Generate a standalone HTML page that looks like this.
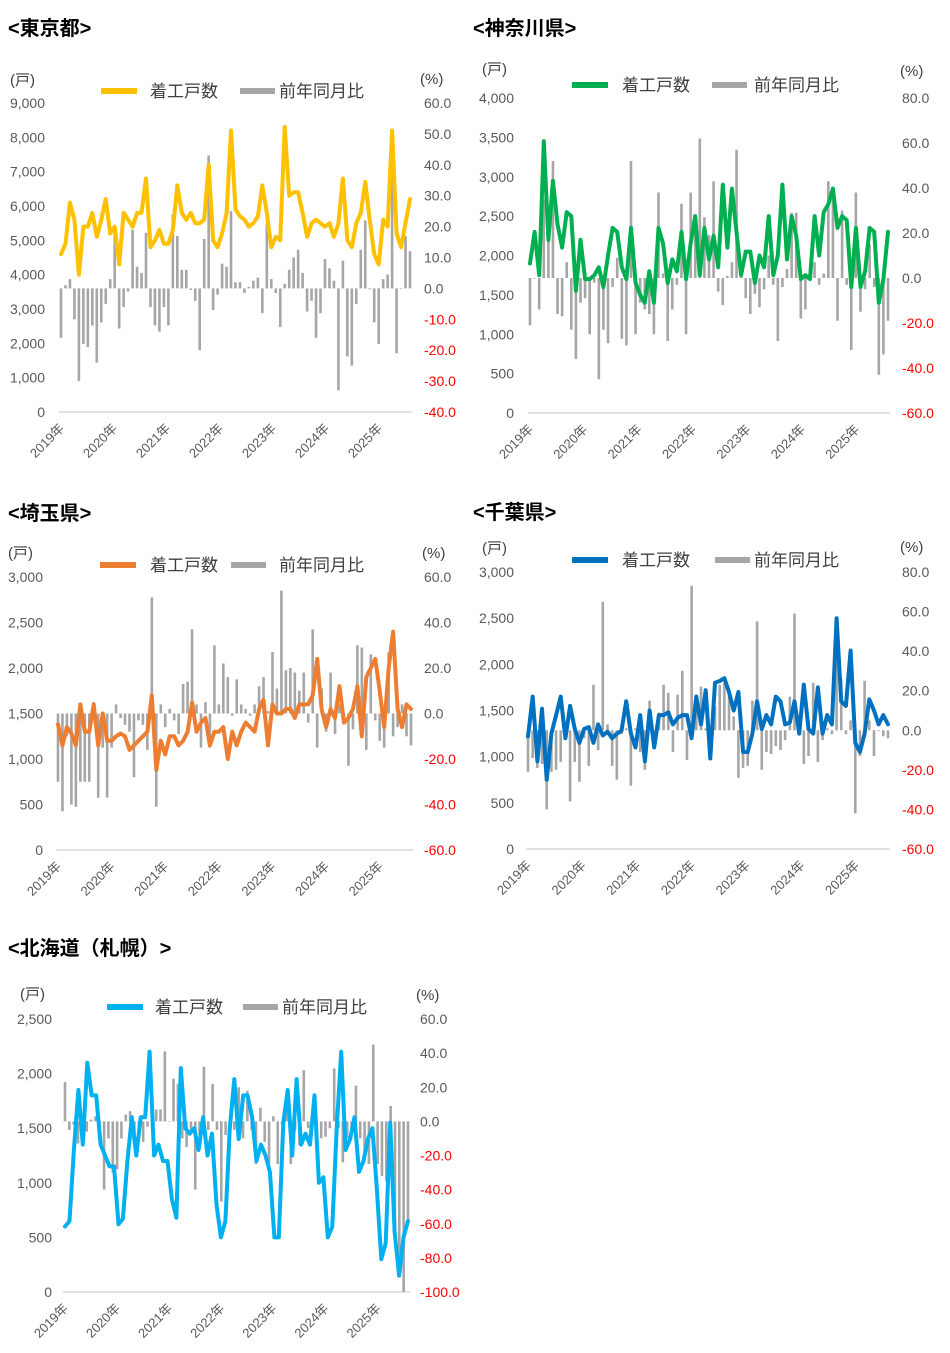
<!DOCTYPE html>
<html><head><meta charset="utf-8">
<style>
html,body{margin:0;padding:0;background:#fff;}
body{width:950px;height:1353px;position:relative;overflow:hidden;font-family:"Liberation Sans","Noto Sans CJK JP",sans-serif;}
svg{position:absolute;left:0;top:0;}
</style></head>
<body>
<svg id="s" width="950" height="1353" xmlns="http://www.w3.org/2000/svg" font-family="Liberation Sans, Noto Sans CJK JP, sans-serif">
<g font-weight="bold" font-size="20" fill="#000">
<text x="8" y="35">&lt;東京都&gt;</text>
<text x="473" y="35">&lt;神奈川県&gt;</text>
<text x="8" y="520">&lt;埼玉県&gt;</text>
<text x="473" y="519">&lt;千葉県&gt;</text>
<text x="8" y="955">&lt;北海道（札幌）&gt;</text>
</g>
</svg>
<script>
var S=document.getElementById('s'),NS='http://www.w3.org/2000/svg';
function el(t,a,txt){var e=document.createElementNS(NS,t);for(var k in a)e.setAttribute(k,a[k]);if(txt!==undefined)e.textContent=txt;S.appendChild(e);return e;}
function fmt(v){return v.toString().replace(/\B(?=(\d{3})+(?!\d))/g,',');}
function chart(c){
  var yT=c.yT,yB=c.yB,x0=c.x0,x1=c.x1;
  function ly(v){return yB-(v/c.lmax)*(yB-yT);}
  function ry(v){return yB-(v-c.rmin)/(c.rmax-c.rmin)*(yB-yT);}
  el('line',{x1:x0-2,y1:yB,x2:x1+2,y2:yB,stroke:'#d9d9d9','stroke-width':1.5});
  for(var v=0;v<=c.lmax+0.1;v+=c.lstep)el('text',{x:c.lx,y:ly(v)+5,'text-anchor':'end','font-size':14,fill:'#595959'},fmt(v));
  for(var v=c.rmin;v<=c.rmax+0.1;v+=c.rstep)el('text',{x:c.rx,y:ry(v)+5,'font-size':14,fill:v<0?'#ff0000':'#595959'},v.toFixed(1));
  var b=c.bars,nb=b.length,db=(x1-x0)/(nb-1),z=ry(0);
  for(var i=0;i<nb;i++){var y=ry(b[i]);el('rect',{x:x0+i*db-1.3,y:Math.min(y,z),width:2.6,height:Math.max(Math.abs(y-z),0.6),fill:'#a6a6a6'});}
  var L=c.line,n=L.length,dl=(x1-x0)/(n-1),p=[];
  for(var i=0;i<n;i++)p.push((x0+i*dl).toFixed(1)+','+ly(L[i]*1000).toFixed(1));
  el('polyline',{points:p.join(' '),fill:'none',stroke:c.col,'stroke-width':4,'stroke-linejoin':'round','stroke-linecap':'round'});
  var ym=(x1-x0)/79;
  for(var k=0;k<7;k++){var x=x0+k*12*ym+4,y=yB+17;el('text',{x:x,y:y,'text-anchor':'end','font-size':13,fill:'#595959',transform:'rotate(-45 '+x+' '+y+')'},(2019+k)+'年');}
  var g=c.lg;
  el('rect',{x:g[0],y:g[1]-3,width:36,height:6,fill:c.col});
  el('text',{x:g[2],y:g[1]+6,'font-size':17,fill:'#404040'},'着工戸数');
  el('rect',{x:g[3],y:g[1]-3,width:35,height:6,fill:'#a6a6a6'});
  el('text',{x:g[4],y:g[1]+6,'font-size':17,fill:'#404040'},'前年同月比');
  el('text',{x:c.u[0],y:c.u[1],'font-size':15,fill:'#404040'},'(戸)');
  el('text',{x:c.u[2],y:c.u[3],'font-size':15,fill:'#404040'},'(%)');
}
chart({x0:61,x1:410,yT:103,yB:412,lmax:9000,lstep:1000,lx:45,rmin:-40,rmax:60,rstep:10,rx:424,col:'#ffc000',
lg:[101,91,150,240,279],u:[10,85,420,84],
line:[4.6,4.9,6.1,5.6,4.0,5.4,5.4,5.8,5.1,5.6,6.2,5.2,5.4,4.3,5.8,5.6,5.4,5.8,5.8,6.8,4.8,5.0,5.3,4.9,4.9,5.3,6.6,5.8,5.6,5.8,5.5,5.5,5.6,7.2,5.0,4.8,5.2,5.8,8.2,5.9,5.7,5.6,5.4,5.5,5.7,6.6,5.8,4.8,5.1,5.0,8.3,6.3,6.4,6.4,5.8,5.1,5.5,5.6,5.5,5.4,5.5,5.1,5.5,6.8,5.0,4.8,5.5,5.8,6.7,5.6,4.6,4.3,5.6,5.4,8.2,5.2,4.8,5.5,6.2],
bars:[-16,1,3,-10,-30,-18,-19,-12,-24,-11,-5,3,18,-13,-6,-1,19,7,5,18,-6,-12,-14,-6,-12,24,17,6,6,-0.5,-4,-20,16,43,-7,-2,8,7,25,2,2,-1.5,0.5,2.5,3.5,-8,21,3,-1.5,-12.5,1.5,6,10,12.5,5,-7.5,-4,-16,-8,9.5,6.5,2.5,-33,9,-22,-25,-5,12.5,22,-0.3,-11,-18,3,4.5,37,-21,-0.2,17,12]});
chart({x0:530,x1:888,yT:98,yB:413,lmax:4000,lstep:500,lx:514,rmin:-60,rmax:80,rstep:20,rx:902,col:'#00b050',
lg:[572,85,622,712,754],u:[482,74,900,76],
line:[1.9,2.3,1.75,3.45,2.2,2.95,2.4,2.1,2.55,2.5,1.55,2.2,1.7,1.7,1.75,1.85,1.6,2.0,2.35,2.3,1.85,1.7,2.35,1.65,1.5,1.4,1.8,1.4,2.35,2.15,1.65,1.95,1.8,2.3,1.7,2.15,2.5,1.75,2.35,1.95,2.25,1.85,2.9,2.1,2.85,2.3,1.75,2.05,2.05,1.65,2.0,1.85,2.5,1.75,2.0,2.9,1.95,2.5,2.25,1.7,1.75,1.7,2.5,2.0,2.55,2.65,2.85,2.35,2.5,2.45,1.6,2.35,1.6,1.8,2.35,2.3,1.4,1.7,2.3],
bars:[-21,0,-14,35,30,52,-16,-17,7,-23,-36,-11,-9,-25,-2,-45,-23,-29,-4,9,-27,-30,52,-25,-11,-14,-16,-25,38,2,-28,-14,-3,33,-25,38,27,62,27,19,43,-6,-12,1,7,57,4,-9,-16,-7,-13,-5,10,-3,-28,-4,4,29,29,-18,-14,4,7,-3,2,43,35,-19,30,-3,-32,38,-15,-5,15,-4,-43,-34,-19]});
chart({x0:58,x1:411,yT:577,yB:850,lmax:3000,lstep:500,lx:43,rmin:-60,rmax:60,rstep:20,rx:424,col:'#ed7d31',
lg:[100,565,150,231,279],u:[8,558,422,558],
line:[1.38,1.15,1.35,1.28,1.15,1.6,1.3,1.3,1.6,1.15,1.5,1.2,1.2,1.25,1.28,1.25,1.1,1.15,1.2,1.25,1.3,1.7,0.88,1.2,1.05,1.25,1.25,1.15,1.2,1.3,1.62,1.3,1.4,1.45,1.15,1.3,1.3,1.35,1.0,1.3,1.15,1.3,1.4,1.35,1.3,1.55,1.65,1.15,1.6,1.5,1.5,1.55,1.55,1.45,1.6,1.6,1.6,1.7,2.1,1.55,1.35,1.55,1.45,1.8,1.4,1.45,1.55,1.8,1.25,1.9,2.0,2.1,1.75,1.35,2.0,2.4,1.55,1.35,1.6,1.55],
bars:[-30,-43,-10,-40,-41,-30,-30,-30,5,-37,-15,-37,-15,4,-2,-5,-8,-28,-3,-5,-16,51,-41,4,-6,2,-3,-9,13,14,37,4,-15,5,-15,30,4,22,16,-1,15,4,2,-1,4,12,16,1,27,11,54,19,20,18,10,18,-4,37,-15,11,-8,18,-9,4,-1,-23,-7,30,29,-16,26,-3,-12,-15,27,-10,-6,4,-10,-14]});
chart({x0:528,x1:888,yT:572,yB:849,lmax:3000,lstep:500,lx:514,rmin:-60,rmax:80,rstep:20,rx:902,col:'#0070c0',
lg:[572,560,622,715,754],u:[482,553,900,552],
line:[1.22,1.65,0.95,1.52,0.75,1.25,1.45,1.65,1.2,1.55,1.3,1.15,1.3,1.32,1.15,1.35,1.23,1.27,1.2,1.25,1.28,1.6,1.25,1.1,1.45,0.95,1.5,1.1,1.45,1.45,1.48,1.35,1.42,1.45,1.45,1.2,1.65,1.35,1.72,0.98,1.8,1.82,1.85,1.7,1.5,1.7,1.05,1.05,1.25,1.6,1.3,1.45,1.35,1.65,1.6,1.35,1.37,1.6,1.25,1.78,1.3,1.25,1.75,1.25,1.45,1.35,2.5,1.6,1.55,2.15,1.15,1.05,1.25,1.62,1.5,1.35,1.45,1.35],
bars:[-21,-14,-19,-17,-40,-21,-20,-16,-2,-36,-16,-26,-4,-18,23,-10,65,3,-18,-25,-2,1,-28,1,-11,-20,15,-9,9,23,19,-11,18,30,-15,73,18,22,1,-13,12,23,24,17,7,-24,-19,-18,15,55,-20,-11,-12,-8,-10,-5,17,59,1,-17,-13,24,-16,-5,1,-2,46,26,-2,5,-42,-13,25,5,-13,0,-3,-4]});
chart({x0:65,x1:408,yT:1019,yB:1292,lmax:2500,lstep:500,lx:52,rmin:-100,rmax:60,rstep:20,rx:420,col:'#00b0f0',
lg:[107,1007,155,243,282],u:[20,999,416,1000],
line:[0.6,0.65,1.3,1.85,1.35,2.1,1.8,1.8,1.35,1.25,1.15,1.15,0.62,0.67,1.2,1.6,1.25,1.6,1.6,2.2,1.25,1.35,1.2,1.2,0.85,0.68,2.05,1.5,1.45,1.5,1.3,1.6,1.25,1.45,0.8,0.5,0.65,1.5,1.95,1.4,1.8,1.8,1.6,1.2,1.35,1.25,1.1,0.5,0.5,1.55,1.85,1.25,1.95,1.35,1.45,1.35,1.8,1.0,1.05,0.5,0.6,1.5,2.2,1.3,1.4,1.6,1.1,1.2,1.4,1.5,0.95,0.3,0.45,1.55,0.55,0.15,0.5,0.65],
bars:[23,-5,-2,-13,0,-6,1,3,-5,-40,-10,-30,-28,-10,4,6,-9,-7,-12,-3,10,7,7,41,0,25,22,-10,-15,-5,-40,-8,32,-5,22,-5,-47,-8,-4,-5,20,-10,18,-5,-25,8,-12,-25,3,-25,-2,9,-25,-5,-14,30,-4,5,-20,-10,-9,-4,31,-4,-24,-10,-4,21,-10,-21,-25,45,-25,-32,-35,9,-70,-90,-100,-60]});
</script>
</body></html>
